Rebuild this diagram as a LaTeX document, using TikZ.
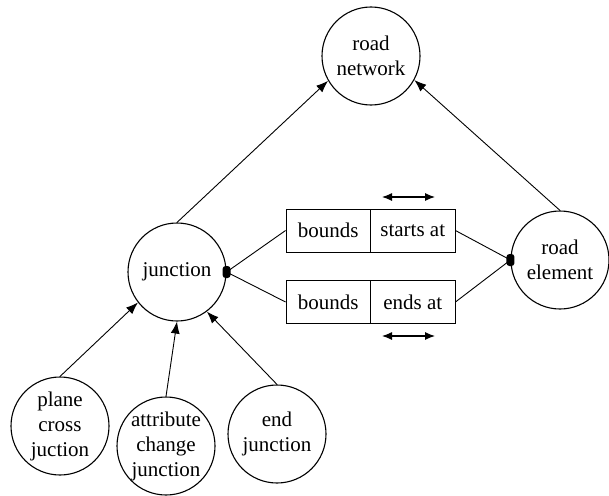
\documentclass[tikz,border=0pt]{standalone}
\usepackage{fontspec}
\setmainfont{LiberationSerif}[Extension=.ttf, UprightFont=*-Regular, BoldFont=*-Bold, ItalicFont=*-Italic, BoldItalicFont=*-BoldItalic]
\usetikzlibrary{arrows.meta}
\begin{document}
\begin{tikzpicture}[x=1pt,y=-1pt,
  every node/.style={font=\rmfamily\fontsize{21}{25}\selectfont},
  concept/.style={draw, circle, minimum size=98pt, inner sep=0pt, line width=1.1pt},
  field/.style={draw, rectangle, minimum width=84.5pt, minimum height=43pt, inner sep=0pt, line width=0.9pt},
  knob/.style={fill=black, rectangle, rounded corners=3pt, minimum width=8pt, minimum height=12pt, inner sep=0pt},
  link/.style={line width=0.9pt},
  isa/.style={line width=0.9pt, -{Latex[length=12pt,width=9pt]}},
  span/.style={line width=1.1pt, {Latex[length=10pt,width=8pt]}-{Latex[length=10pt,width=8pt]}}]
\useasboundingbox (0,0) rectangle (609,495);

% concepts
\node[concept, label={[align=center]center:road\\network}] (rn) at (371,56) {};
\node[concept, label={[align=center]center:junction}] (jn) at (177,272) {};
\node[concept, label={[align=center]center:road\\element}] (re) at (560,260) {};
\node[concept, label={[align=center]center:plane\\cross\\juction}] (pc) at (60,426) {};
\node[concept, label={[align=center]center:attribute\\change\\junction}] (ac) at (166,446) {};
\node[concept, label={[align=center]center:end\\junction}] (ej) at (277,434) {};

% relation records
\node[field] (b1l) at (328.25,230.5) {bounds};
\node[field] (b1r) at (412.75,230.5) {starts at};
\node[field] (b2l) at (328.25,302) {bounds};
\node[field] (b2r) at (412.75,302) {ends at};

% attachment knobs
\node[knob] (jdot) at (jn.east) {};
\node[knob] (rdot) at (re.west) {};

% record connectors
\draw[link] (jdot.center) -- (b1l.west);
\draw[link] (jdot.center) -- (b2l.west);
\draw[link] (b1r.east) -- (rdot.center);
\draw[link] (b2r.east) -- (rdot.center);

% direction markers
\coordinate (sa1) at (382,197);
\coordinate (sa2) at (435,197);
\coordinate (ea1) at (382,336);
\coordinate (ea2) at (435,336);
\draw[span] (sa1) -- (sa2);
\draw[span] (ea1) -- (ea2);

% generalisation arrows
\draw[isa] (jn.north) -- (rn.210);
\draw[isa] (re.north) -- (rn.331);
\draw[isa] (pc.north) -- (jn.218);
\draw[isa] (ac.north) -- (jn.270);
\draw[isa] (ej.north) -- (jn.307);
\end{tikzpicture}
\end{document}
